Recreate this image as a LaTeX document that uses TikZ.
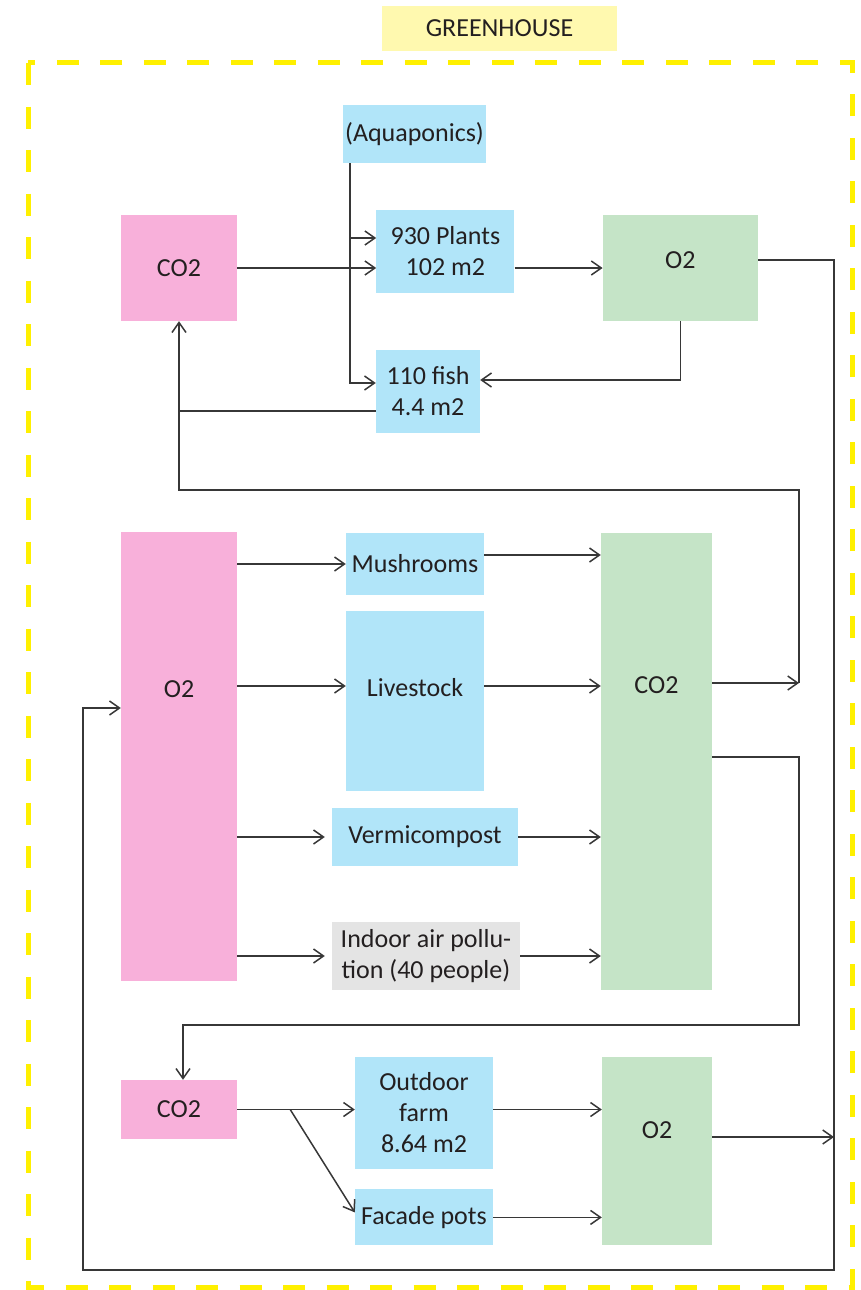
\documentclass[tikz,border=0pt]{standalone}
\usepackage{fontspec}
\setmainfont{Carlito}
\usetikzlibrary{
    arrows.meta,
    positioning
}
\definecolor{gaspink}{RGB}{248,176,218}
\definecolor{gasgreen}{RGB}{197,228,199}
\definecolor{unitblue}{RGB}{177,229,249}
\definecolor{pollgray}{RGB}{228,228,228}
\definecolor{labelyellow}{RGB}{255,249,175}
\definecolor{bordyellow}{RGB}{255,240,0}
\definecolor{inkdark}{RGB}{35,31,32}
\definecolor{wiregray}{RGB}{55,55,55}

\begin{document}
\begin{tikzpicture}[
        x=1pt, y=-1pt,
        node distance=10pt,
        every node/.style={font=\fontsize{26pt}{31pt}\selectfont, text=inkdark},
        box/.style={
            rectangle,
            inner sep=0pt,
            align=center
        },
        pinkgas/.style={box, fill=gaspink},
        greengas/.style={box, fill=gasgreen},
        unit/.style={box, fill=unitblue},
        polluter/.style={box, fill=pollgray},
        tag/.style={box, fill=labelyellow},
        flow/.style={
            -{Straight Barb[length=10pt,width=14pt]},
            line width=1.5pt,
            draw=wiregray
        },
        wire/.style={
            line width=1.5pt,
            draw=wiregray
        },
        zone/.style={
            draw=bordyellow,
            line width=5pt,
            dash pattern=on 22pt off 21.5pt
        }
    ]

    \useasboundingbox (0,0) rectangle (861,1290);

    \draw[zone] (28,63) rectangle (852,1287);
    \node[tag, minimum width=235pt, minimum height=45pt] (house) at (499.5,28.5) {GREENHOUSE};

    % aquaponics loop
    \node[pinkgas, minimum width=116pt, minimum height=106pt] (co2top) at (179,268) {CO2};
    \node[unit, minimum width=143pt, minimum height=58pt] (aqua) at (414.5,134) {(Aquaponics)};
    \node[unit, minimum width=138pt, minimum height=83pt, right=139pt of co2top, yshift=16.5pt] (plants)
        {930 Plants\\102 m2};
    \node[unit, minimum width=104pt, minimum height=83pt] (fish) at (428,391.5)
        {110 fish\\4.4 m2};
    \node[greengas, minimum width=155pt, minimum height=106pt, text depth=16pt,
          right=88pt of plants, yshift=-16.5pt] (o2top) {O2};

    % indoor consumers
    \node[pinkgas, minimum width=116pt, minimum height=449pt, text depth=135pt] (o2mid) at (179,756.5) {O2};
    \node[unit, minimum width=138pt, minimum height=62pt] (mush) at (415,564) {Mushrooms};
    \node[unit, minimum width=138pt, minimum height=180pt, text depth=28pt, below=16pt of mush] (stock)
        {Livestock};
    \node[unit, minimum width=186pt, minimum height=58pt] (vermi) at (425,837) {Vermicompost};
    \node[polluter, minimum width=188pt, minimum height=68pt] (indoor) at (426,956)
        {Indoor air pollu-\\tion (40 people)};
    \node[greengas, minimum width=111pt, minimum height=457pt, text depth=153pt] (co2mid) at (656.5,761.5) {CO2};

    % outdoor growing
    \node[pinkgas, minimum width=116pt, minimum height=59pt] (co2bot) at (179,1109.5) {CO2};
    \node[unit, minimum width=138pt, minimum height=112pt] (farm) at (424,1113)
        {Outdoor\\farm\\8.64 m2};
    \node[unit, minimum width=138pt, minimum height=56pt, below=20pt of farm] (facade) {Facade pots};
    \node[greengas, minimum width=110pt, minimum height=188pt, text depth=42pt] (o2bot) at (657,1151) {O2};

    \coordinate (retA) at (799,683);
    \coordinate (retB) at (799,490);
    \coordinate (dropC) at (799,1025);
    \coordinate (outR) at (834,1270);
    \coordinate (outL) at (83,1270);

    \draw[flow] (co2top.east) -- (co2top.east -| plants.west);
    \draw[flow] ([xshift=7pt]aqua.south west) |- (plants.west |- 0,238);
    \draw[flow] ([xshift=7pt]aqua.south west) |- (fish.west |- 0,383);
    \draw[flow] (co2top.east -| plants.east) -- (co2top.east -| o2top.west);
    \draw[flow] (o2top.south) |- (fish.east |- 0,380);
    \draw[wire] (fish.west |- 0,411) -- (co2top.south |- 0,411);

    \draw[flow] ([yshift=78.5pt]co2mid.east) -- (retA);
    \draw[flow] (retA) -- (retB) -| (co2top.south);
    \draw[flow] ([yshift=8pt]o2top.east) -| (outR) -- (outL) |- ([yshift=48.5pt]o2mid.west);

    \draw[flow] (o2mid.east |- mush.west) -- (mush.west);
    \draw[flow] (mush.east |- 0,555) -- (co2mid.west |- 0,555);
    \draw[flow] (o2mid.east |- 0,686) -- (stock.west |- 0,686);
    \draw[flow] (stock.east |- 0,686) -- (co2mid.west |- 0,686);
    \draw[flow] (o2mid.east |- vermi.west) -- ([xshift=-7pt]vermi.west);
    \draw[flow] (vermi.east) -- (vermi.east -| co2mid.west);
    \draw[flow] (o2mid.east |- indoor.west) -- ([xshift=-7pt]indoor.west);
    \draw[flow] (indoor.east) -- (indoor.east -| co2mid.west);
    \draw[flow] ([yshift=4.5pt]co2mid.east) -| (dropC) -| ([xshift=4pt]co2bot.north);

    \draw[flow] (co2bot.east) -- (co2bot.east -| farm.west);
    \draw[flow] ([xshift=53pt]co2bot.east) -- ([yshift=5pt]facade.west);
    \draw[flow] (co2bot.east -| farm.east) -- (co2bot.east -| o2bot.west);
    \draw[flow] (facade.east) -- (facade.east -| o2bot.west);
    \draw[flow] (o2bot.east |- 0,1137) -- (outR |- 0,1137);

\end{tikzpicture}
\end{document}
